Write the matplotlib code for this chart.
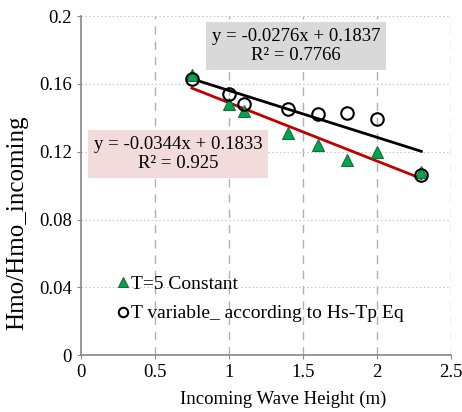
import numpy as np
import matplotlib.pyplot as plt

plt.rcParams['font.family'] = ['Liberation Serif', 'DejaVu Serif']

# incoming wave height (m)
wave_h = [0.75, 1.0, 1.1, 1.4, 1.6, 1.8, 2.0, 2.3]
# Hmo/Hmo_incoming, T=5 constant
ratio_const = [0.165, 0.148, 0.144, 0.131, 0.124, 0.115, 0.120, 0.108]
# Hmo/Hmo_incoming, T variable (Hs-Tp relation)
ratio_var = [0.163, 0.154, 0.148, 0.145, 0.142, 0.143, 0.139, 0.106]

# linear trend coefficients (slope, intercept, R^2)
fit_const = (-0.0344, 0.1833, 0.925)
fit_var = (-0.0276, 0.1837, 0.7766)

fig = plt.figure(figsize=(4.62, 4.12), dpi=100)
ax = fig.add_axes([0.175, 0.138, 0.801, 0.823])

xs = np.array([min(wave_h), max(wave_h)])
ax.plot(xs, fit_const[0] * xs + fit_const[1], color='#C00000', lw=2.0, zorder=2)
ax.plot(xs, fit_var[0] * xs + fit_var[1], color='black', lw=2.0, zorder=2)

ax.plot(wave_h, ratio_const, ls='none', marker='^', ms=9, mfc='#00A550',
        mec='#1e6b35', mew=0.8, label='T=5 Constant', zorder=3)
ax.plot(wave_h, ratio_var, ls='none', marker='o', ms=9, mfc='none',
        mec='black', mew=1.5, label='T variable_ according to Hs-Tp Eq', zorder=4)

ax.text(1.453, 0.1823, f'y = {fit_var[0]}x + {fit_var[1]}\nR² = {fit_var[2]}',
        ha='center', va='center', fontsize=13.5, linespacing=1.15,
        bbox=dict(boxstyle='square,pad=0.3', fc='#D9D9D9', ec='none'), zorder=5)
ax.text(0.659, 0.1186, f'y = {fit_const[0]}x + {fit_const[1]}\nR² = {fit_const[2]}',
        ha='center', va='center', fontsize=13.5, linespacing=1.15,
        bbox=dict(boxstyle='square,pad=0.3', fc='#F2DCDB', ec='none'), zorder=5)

ax.set_xlim(0, 2.5)
ax.set_ylim(0, 0.2)
ax.set_xticks([0, 0.5, 1, 1.5, 2, 2.5])
ax.set_xticklabels(['0', '0.5', '1', '1.5', '2', '2.5'])
ax.set_yticks([0, 0.04, 0.08, 0.12, 0.16, 0.2])
ax.set_yticklabels(['0', '0.04', '0.08', '0.12', '0.16', '0.2'])
ax.tick_params(labelsize=13.5, length=3, color='#888888', direction='out')

for x in [0.5, 1, 1.5, 2, 2.5]:
    ax.axvline(x, color='#B0B0B0', lw=1.0, ls=(0, (6, 5)), zorder=1)
for y in [0.04, 0.08, 0.12, 0.16, 0.2]:
    ax.axhline(y, color='#C8C8C8', lw=0.8, ls=(0, (1.5, 2)), zorder=1)

for side in ['top', 'right']:
    ax.spines[side].set_visible(False)
for side in ['left', 'bottom']:
    ax.spines[side].set_color('#888888')
    ax.spines[side].set_linewidth(1.2)

ax.set_xlabel('Incoming Wave Height (m)', fontsize=13.5)
ax.xaxis.set_label_coords(0.546, -0.105)
ax.set_ylabel('Hmo/Hmo_incoming', fontsize=18)
ax.yaxis.set_label_coords(-0.143, 0.39)

ax.legend(loc='lower left', bbox_to_anchor=(0.05, 0.045), frameon=False,
          fontsize=14, handlelength=0.6, handletextpad=0.15, markerscale=0.75,
          labelspacing=0.6)

fig.savefig('out.png', dpi=100)
